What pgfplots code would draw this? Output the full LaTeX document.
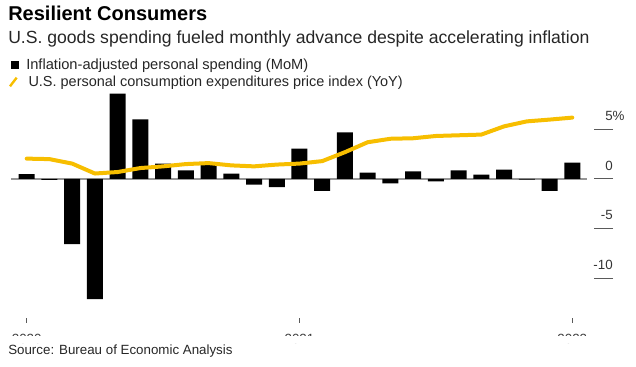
\documentclass[border=0pt]{standalone}
\usepackage{pgfplots}
\pgfplotsset{compat=1.18}
\usepackage{fontspec}
\setmainfont{Liberation Sans}
\definecolor{bbyellow}{RGB}{247,190,0}
\definecolor{zerogray}{RGB}{150,150,150}
\definecolor{tickgray}{RGB}{90,90,90}
\begin{document}
\begin{tikzpicture}
\useasboundingbox (0,0) rectangle (477pt,275.25pt);
\begin{axis}[
  at={(8.25pt,33pt)}, anchor=south west,
  scale only axis, width=451.5pt, height=175.05pt,
  xmin=-0.69, xmax=25.79, ymin=-14.5, ymax=9,
  axis line style={draw=none},
  clip=false,
  tick align=inside,
  xtick={0,12,24}, xticklabels={2020,2021,2022},
  xtick pos=lower,
  xtick style={draw=tickgray, line width=0.6pt, /pgfplots/major tick length=3.75pt},
  xticklabel style={anchor=north, inner sep=0pt, yshift=-8pt, font=\fontsize{10}{12}\selectfont, text=black!75},
  ytick={-10,-5,0,5}, yticklabels={-10,-5,0,5\rlap{\%}},
  ytick pos=right, yticklabel pos=right,
  ytick style={draw=tickgray, line width=0.75pt, /pgfplots/major tick length=14.25pt},
  yticklabel style={anchor=base east, inner sep=0pt, xshift=0pt, yshift=6.5pt, font=\fontsize{10}{12}\selectfont, text=black!80},
  minor tick num=0,
]
\addplot[zerogray, line width=0.8pt] coordinates {(-0.69,0) (24.64,0)};
\addplot[ybar, bar width=12pt, fill=black, draw=none] coordinates {
(0,0.5) (1,-0.1) (2,-6.55) (3,-12.1) (4,8.6) (5,6.0) (6,1.55) (7,0.87) (8,1.4) (9,0.54) (10,-0.56) (11,-0.83)
(12,3.05) (13,-1.2) (14,4.7) (15,0.64) (16,-0.43) (17,0.77) (18,-0.23) (19,0.87) (20,0.44) (21,0.94) (22,-0.06) (23,-1.2) (24,1.65)};
\addplot[bbyellow, line width=3pt, line join=round, line cap=round] coordinates {
(0,2.05) (1,2.0) (2,1.55) (3,0.55) (4,0.7) (5,1.1) (6,1.27) (7,1.5) (8,1.6) (9,1.37) (10,1.27) (11,1.45)
(12,1.55) (13,1.8) (14,2.7) (15,3.7) (16,4.05) (17,4.1) (18,4.33) (19,4.4) (20,4.47) (21,5.3) (22,5.8) (23,5.98) (24,6.18)};
\end{axis}
\fill[white] (0,18pt) rectangle (477pt,23.25pt);
\node[anchor=base west, inner sep=0pt, font=\fontsize{15}{18}\selectfont\bfseries] at (6pt,259.7pt) {Resilient Consumers};
\node[anchor=base west, inner sep=0pt, font=\fontsize{13.2}{16}\selectfont, text=black!85] at (6pt,242.8pt) {U.S. goods spending fueled monthly advance despite accelerating inflation};
\fill[black] (8pt,223.3pt) rectangle (14.25pt,229.5pt);
\node[anchor=base west, inner sep=0pt, font=\fontsize{11}{13}\selectfont, text=black!85] at (19.5pt,223pt) {Inflation-adjusted personal spending (MoM)};
\draw[bbyellow, line width=1.8pt] (7.5pt,210.5pt) -- (12.5pt,217pt);
\node[anchor=base west, inner sep=0pt, font=\fontsize{10.85}{13}\selectfont, text=black!85] at (21.2pt,210.5pt) {U.S. personal consumption expenditures price index (YoY)};
\node[anchor=base west, inner sep=0pt, font=\fontsize{10}{12}\selectfont, text=black!85] at (6pt,9pt) {Source: Bureau of Economic Analysis};
\end{tikzpicture}
\end{document}
